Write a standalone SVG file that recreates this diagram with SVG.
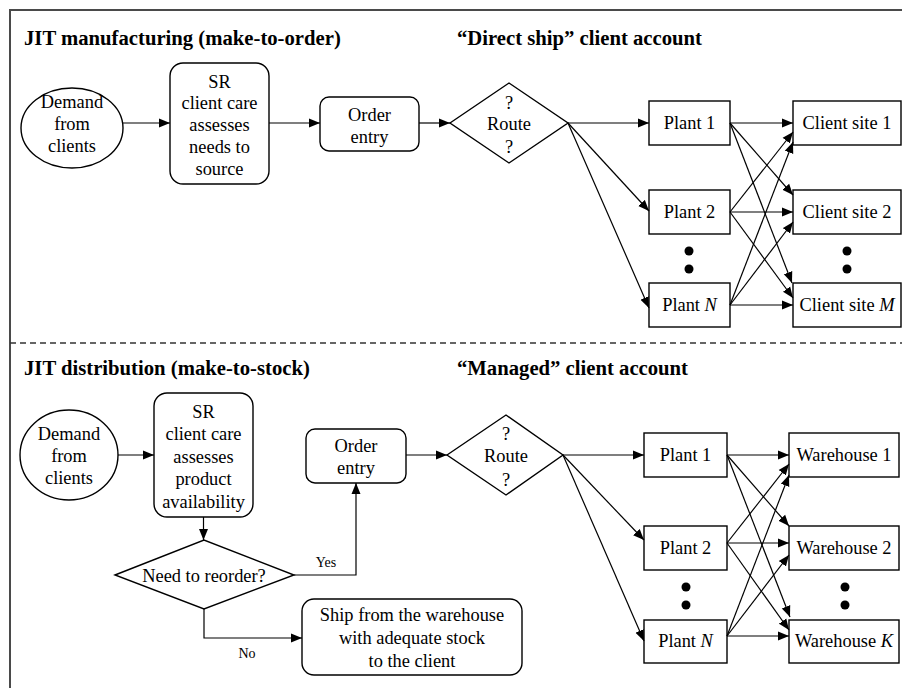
<svg xmlns="http://www.w3.org/2000/svg" width="902" height="688" viewBox="0 0 902 688">
<style>
  .t { font-family: "Liberation Serif", "Times New Roman", serif; font-size: 18.4px; fill: #000; text-anchor: middle; }
  .h { font-family: "Liberation Serif", "Times New Roman", serif; font-size: 20.7px; font-weight: bold; fill: #000; }
  .s { font-family: "Liberation Serif", "Times New Roman", serif; font-size: 14px; fill: #000; text-anchor: middle; }
  .n { fill: #fff; stroke: #000; stroke-width: 1.4; }
  .c { fill: none; stroke: #000; stroke-width: 1.2; marker-end: url(#ah); }
  .dot { fill: #000; }
</style>
<defs>
  <marker id="ah" markerUnits="userSpaceOnUse" markerWidth="12" markerHeight="10" refX="11" refY="5" orient="auto">
    <path d="M0,0.5 L11,5 L0,9.5 Z" fill="#000"/>
  </marker>
</defs>
<rect width="902" height="688" fill="#fff"/>
<g id="frame">
  <path d="M10,688 L10,10 L902,10" fill="none" stroke="#4a4a4a" stroke-width="2"/>
  <line x1="10" y1="343" x2="902" y2="343" stroke="#333" stroke-width="1.5" stroke-dasharray="6,4"/>
</g>
<g id="titles">
  <text class="h" x="24" y="45">JIT manufacturing (make-to-order)</text>
  <text class="h" x="457" y="45">“Direct ship” client account</text>
  <text class="h" x="24" y="375">JIT distribution (make-to-stock)</text>
  <text class="h" x="457" y="375">“Managed” client account</text>
</g>

<g id="demand1">
  <ellipse class="n" cx="72" cy="128" rx="51" ry="40"/>
  <text class="t" x="72" y="108">Demand</text>
  <text class="t" x="72" y="130">from</text>
  <text class="t" x="72" y="152">clients</text>
</g>
<g id="sr1">
  <rect class="n" x="170" y="63" width="99" height="121" rx="13"/>
  <text class="t" x="219.5" y="88">SR</text>
  <text class="t" x="219.5" y="109">client care</text>
  <text class="t" x="219.5" y="131">assesses</text>
  <text class="t" x="219.5" y="153">needs to</text>
  <text class="t" x="219.5" y="175">source</text>
</g>
<g id="order1">
  <rect class="n" x="320" y="97" width="99" height="54" rx="9"/>
  <text class="t" x="369.5" y="121">Order</text>
  <text class="t" x="369.5" y="143">entry</text>
</g>
<g id="route1">
  <polygon class="n" points="450,123 509,83 568,123 509,163"/>
  <text class="t" x="509" y="109">?</text>
  <text class="t" x="509" y="130">Route</text>
  <text class="t" x="509" y="153">?</text>
</g>
<g id="plant1a">
  <rect class="n" x="649" y="101" width="81" height="44"/>
  <text class="t" x="689.5" y="129">Plant 1</text>
</g>
<g id="plant2a">
  <rect class="n" x="649" y="190" width="81" height="44"/>
  <text class="t" x="689.5" y="218">Plant 2</text>
</g>
<g id="plantNa">
  <rect class="n" x="649" y="283" width="81" height="44"/>
  <text class="t" x="689.5" y="311">Plant <tspan font-style="italic">N</tspan></text>
</g>
<g id="client1">
  <rect class="n" x="793" y="101" width="108" height="44"/>
  <text class="t" x="847" y="129">Client site 1</text>
</g>
<g id="client2">
  <rect class="n" x="793" y="190" width="108" height="44"/>
  <text class="t" x="847" y="218">Client site 2</text>
</g>
<g id="clientM">
  <rect class="n" x="793" y="283" width="108" height="44"/>
  <text class="t" x="847" y="311">Client site <tspan font-style="italic">M</tspan></text>
</g>
<g id="dots1">
  <circle class="dot" cx="689" cy="251" r="4.5"/>
  <circle class="dot" cx="689" cy="269" r="4.5"/>
  <circle class="dot" cx="847" cy="251" r="4.5"/>
  <circle class="dot" cx="847" cy="269" r="4.5"/>
</g>

<g id="demand2">
  <ellipse class="n" cx="69" cy="455" rx="49" ry="45"/>
  <text class="t" x="69" y="440">Demand</text>
  <text class="t" x="69" y="462">from</text>
  <text class="t" x="69" y="484">clients</text>
</g>
<g id="sr2">
  <rect class="n" x="154" y="393" width="99" height="124" rx="13"/>
  <text class="t" x="203.5" y="418">SR</text>
  <text class="t" x="203.5" y="440">client care</text>
  <text class="t" x="203.5" y="463">assesses</text>
  <text class="t" x="203.5" y="485">product</text>
  <text class="t" x="203.5" y="508">availability</text>
</g>
<g id="order2">
  <rect class="n" x="306" y="429" width="100" height="54" rx="9"/>
  <text class="t" x="356" y="452">Order</text>
  <text class="t" x="356" y="474">entry</text>
</g>
<g id="route2">
  <polygon class="n" points="447,455 506,415 563,455 506,495"/>
  <text class="t" x="506" y="440">?</text>
  <text class="t" x="506" y="462">Route</text>
  <text class="t" x="506" y="486">?</text>
</g>
<g id="reorder">
  <polygon class="n" points="115,575 204,540 294,575 204,609"/>
  <text class="t" x="204" y="582">Need to reorder?</text>
</g>
<g id="ship">
  <rect class="n" x="302" y="599" width="220" height="76" rx="12"/>
  <text class="t" x="412" y="621">Ship from the warehouse</text>
  <text class="t" x="412" y="644">with adequate stock</text>
  <text class="t" x="412" y="667">to the client</text>
</g>
<g id="plant1b">
  <rect class="n" x="644" y="433" width="83" height="44"/>
  <text class="t" x="685.5" y="461">Plant 1</text>
</g>
<g id="plant2b">
  <rect class="n" x="644" y="526" width="83" height="44"/>
  <text class="t" x="685.5" y="554">Plant 2</text>
</g>
<g id="plantNb">
  <rect class="n" x="644" y="620" width="83" height="43"/>
  <text class="t" x="685.5" y="647">Plant <tspan font-style="italic">N</tspan></text>
</g>
<g id="wh1">
  <rect class="n" x="789" y="433" width="110" height="44"/>
  <text class="t" x="844" y="461">Warehouse 1</text>
</g>
<g id="wh2">
  <rect class="n" x="789" y="526" width="110" height="44"/>
  <text class="t" x="844" y="554">Warehouse 2</text>
</g>
<g id="whK">
  <rect class="n" x="789" y="620" width="110" height="43"/>
  <text class="t" x="844" y="647">Warehouse <tspan font-style="italic">K</tspan></text>
</g>
<g id="dots2">
  <circle class="dot" cx="686" cy="587" r="4.5"/>
  <circle class="dot" cx="686" cy="605" r="4.5"/>
  <circle class="dot" cx="845" cy="587" r="4.5"/>
  <circle class="dot" cx="845" cy="605" r="4.5"/>
</g>

<g id="connectors">
  <line class="c" x1="123" y1="123" x2="170" y2="123"/>
  <line class="c" x1="269" y1="123" x2="320" y2="123"/>
  <line class="c" x1="419" y1="123" x2="450" y2="123"/>
  <line class="c" x1="568" y1="123" x2="649" y2="123"/>
  <line class="c" x1="568" y1="123" x2="649" y2="211"/>
  <line class="c" x1="568" y1="123" x2="649" y2="308"/>
  <line class="c" x1="730" y1="123" x2="793" y2="123"/>
  <line class="c" x1="730" y1="123" x2="793" y2="195"/>
  <line class="c" x1="730" y1="123" x2="792" y2="283"/>
  <line class="c" x1="730" y1="212" x2="793" y2="132"/>
  <line class="c" x1="730" y1="212" x2="793" y2="212"/>
  <line class="c" x1="730" y1="212" x2="793" y2="298"/>
  <line class="c" x1="730" y1="305" x2="793" y2="142"/>
  <line class="c" x1="730" y1="305" x2="793" y2="222"/>
  <line class="c" x1="730" y1="305" x2="793" y2="305"/>
  <line class="c" x1="118" y1="455" x2="154" y2="455"/>
  <line class="c" x1="203.5" y1="517" x2="203.5" y2="540"/>
  <path class="c" d="M294,575 L356,575 L356,483"/>
  <path class="c" d="M204,609 L204,638 L302,638"/>
  <line class="c" x1="406" y1="455" x2="447" y2="455"/>
  <line class="c" x1="563" y1="455" x2="644" y2="455"/>
  <line class="c" x1="563" y1="455" x2="644" y2="540"/>
  <line class="c" x1="563" y1="455" x2="644" y2="641"/>
  <line class="c" x1="727" y1="455" x2="789" y2="455"/>
  <line class="c" x1="727" y1="455" x2="789" y2="526"/>
  <line class="c" x1="727" y1="455" x2="790" y2="617"/>
  <line class="c" x1="727" y1="543" x2="789" y2="464"/>
  <line class="c" x1="727" y1="543" x2="789" y2="543"/>
  <line class="c" x1="727" y1="543" x2="789" y2="630"/>
  <line class="c" x1="727" y1="636" x2="789" y2="475"/>
  <line class="c" x1="727" y1="636" x2="789" y2="555"/>
  <line class="c" x1="727" y1="636" x2="789" y2="636"/>
</g>
<g id="labels">
  <text class="s" x="326" y="567">Yes</text>
  <text class="s" x="247" y="658">No</text>
</g>
</svg>
